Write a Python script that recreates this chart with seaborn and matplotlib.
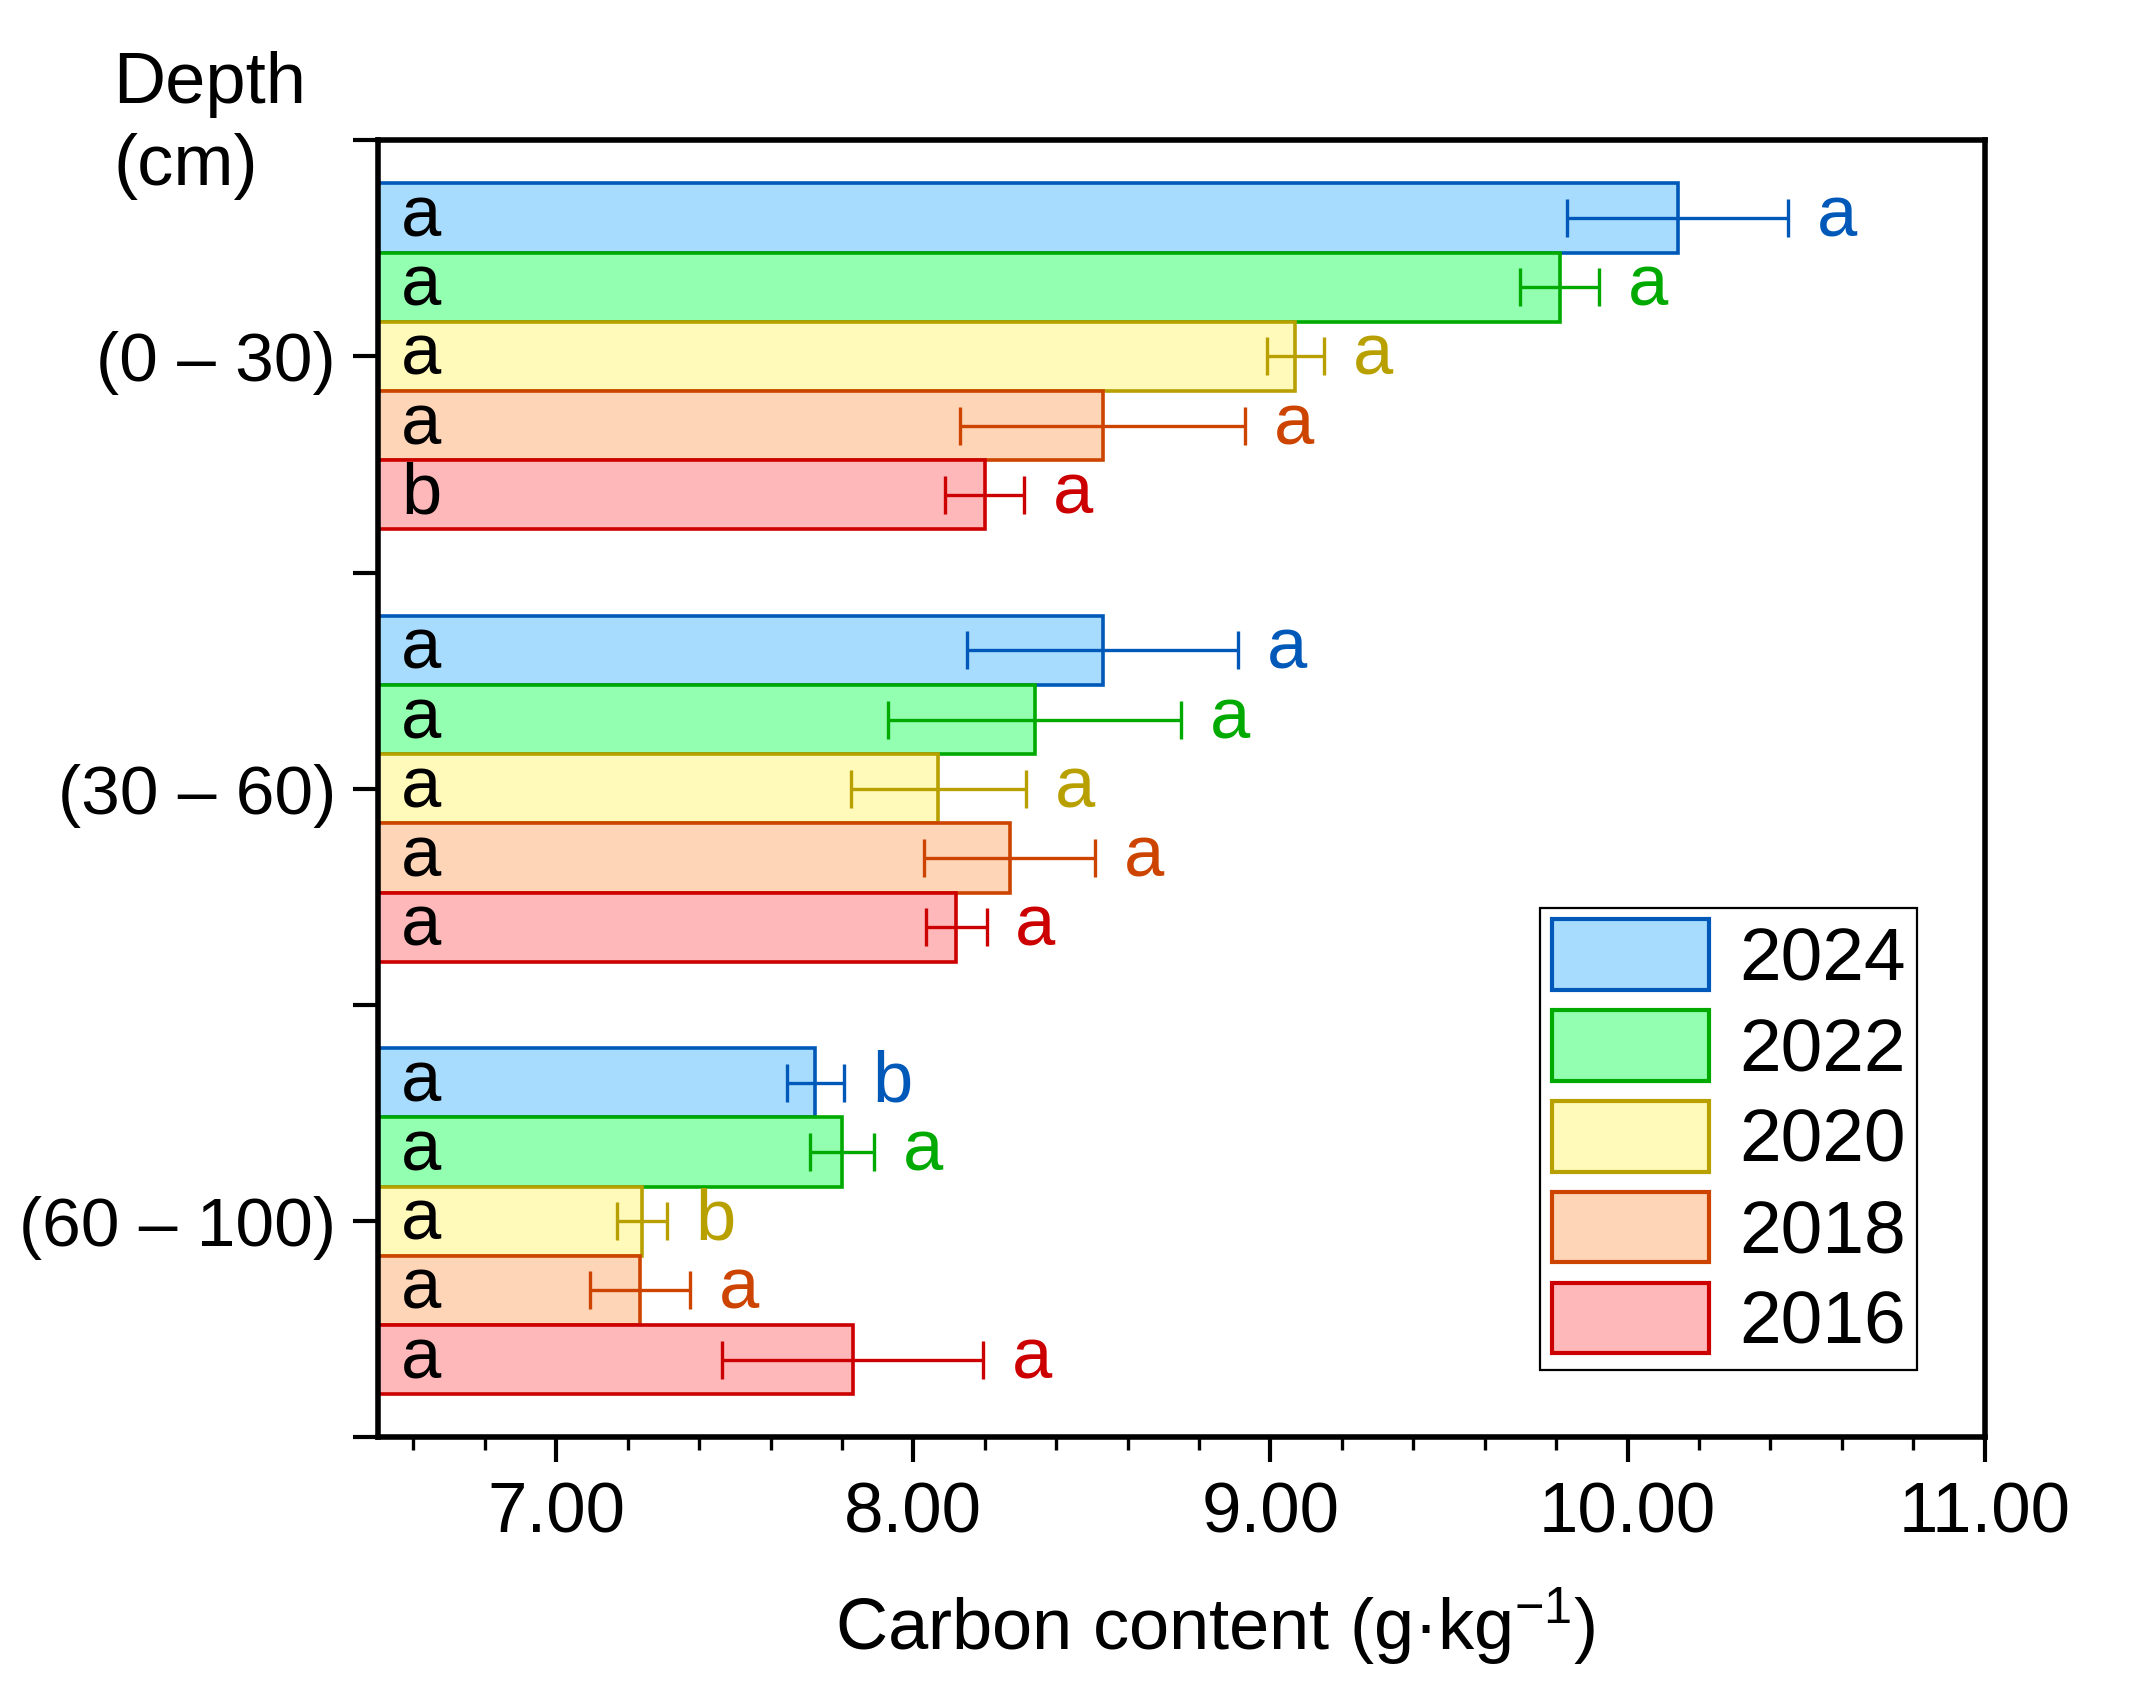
import matplotlib
matplotlib.use("Agg")
import numpy as np
import pandas as pd
import matplotlib.pyplot as plt
import matplotlib.patches as mpatches
from matplotlib.colors import to_rgb
from matplotlib.ticker import MultipleLocator, FormatStrFormatter
import seaborn as sns

# data
depths = ["(0 – 30)", "(30 – 60)", "(60 – 100)"]
years = ["2024", "2022", "2020", "2018", "2016"]

mean_2024 = [10.14, 8.53, 7.725]
mean_2022 = [9.81, 8.34, 7.80]
mean_2020 = [9.07, 8.07, 7.24]
mean_2018 = [8.53, 8.27, 7.235]
mean_2016 = [8.20, 8.12, 7.83]

err_2024 = [0.31, 0.38, 0.08]
err_2022 = [0.11, 0.41, 0.09]
err_2020 = [0.08, 0.245, 0.07]
err_2018 = [0.40, 0.24, 0.14]
err_2016 = [0.11, 0.085, 0.365]

# letters inside bars (between depths) and beside bars (between years)
inner_2024 = ["a", "a", "a"]
inner_2022 = ["a", "a", "a"]
inner_2020 = ["a", "a", "a"]
inner_2018 = ["a", "a", "a"]
inner_2016 = ["b", "a", "a"]

outer_2024 = ["a", "a", "b"]
outer_2022 = ["a", "a", "a"]
outer_2020 = ["a", "a", "b"]
outer_2018 = ["a", "a", "a"]
outer_2016 = ["a", "a", "a"]

fills = ["#A8DCFF", "#93FFB0", "#FFFAB9", "#FFD5B8", "#FFB8BA"]
edges = ["#0058B8", "#00AA00", "#B8A000", "#CC4400", "#CC0000"]

means = [mean_2024, mean_2022, mean_2020, mean_2018, mean_2016]
errs = [err_2024, err_2022, err_2020, err_2018, err_2016]
inners = [inner_2024, inner_2022, inner_2020, inner_2018, inner_2016]
outers = [outer_2024, outer_2022, outer_2020, outer_2018, outer_2016]

rows = []
for y, m in zip(years, means):
    for d, v in zip(depths, m):
        rows.append({"Depth": d, "Year": y, "Carbon": v})
df = pd.DataFrame(rows)

sns.set_theme(style="ticks")
plt.rcParams["font.family"] = ["Liberation Sans", "DejaVu Sans"]
plt.rcParams["mathtext.fontset"] = "custom"
plt.rcParams["mathtext.rm"] = "Liberation Sans"
plt.rcParams["mathtext.it"] = "Liberation Sans:italic"
plt.rcParams["mathtext.bf"] = "Liberation Sans:bold"
for k in ["text.color", "axes.labelcolor", "xtick.color", "ytick.color",
          "xtick.labelcolor", "ytick.labelcolor"]:
    plt.rcParams[k] = "black"

fig, ax = plt.subplots(figsize=(10.67, 8.445), dpi=200)
fig.subplots_adjust(left=0.177, right=0.930, top=0.917, bottom=0.149)

sns.barplot(data=df, x="Carbon", y="Depth", hue="Year", hue_order=years,
            order=depths, palette=fills, saturation=1, width=0.8,
            orient="h", ax=ax, legend=False)

fill_rgb = [np.array(to_rgb(c)) for c in fills]

for bar in list(ax.patches):
    fc = np.array(bar.get_facecolor()[:3])
    i = int(np.argmin([np.abs(fc - c).sum() for c in fill_rgb]))
    bar.set_edgecolor(edges[i])
    bar.set_linewidth(1.3)
    yc = bar.get_y() + bar.get_height() / 2
    j = int(round(yc))
    v = bar.get_width()
    e = errs[i][j]
    ax.errorbar(v, yc, xerr=e, fmt="none", ecolor=edges[i],
                elinewidth=1.2, capsize=7, capthick=1.2, zorder=3)
    ax.text(6.565, yc, inners[i][j], ha="left", va="center",
            fontsize=26, color="black")
    ax.text(v + e + 0.08, yc, outers[i][j], ha="left", va="center",
            fontsize=26, color=edges[i])

ax.set_xlim(6.5, 11)
ax.set_ylim(2.5, -0.5)
ax.xaxis.set_major_locator(MultipleLocator(1))
ax.xaxis.set_minor_locator(MultipleLocator(0.2))
ax.xaxis.set_major_formatter(FormatStrFormatter("%.2f"))
ax.set_yticks([0, 1, 2])
ax.set_yticklabels(depths)
ax.set_yticks([-0.5, 0.5, 1.5, 2.5], minor=True)

ax.tick_params(axis="both", which="major", direction="out", length=9,
               width=1.5, color="black")
ax.tick_params(axis="x", which="major", labelsize=25.5, pad=7)
ax.tick_params(axis="y", which="major", labelsize=25, pad=6)
ax.tick_params(axis="x", which="minor", direction="out", length=4.5,
               width=1.2)
ax.tick_params(axis="y", which="minor", direction="out", length=9,
               width=1.5)

for s in ax.spines.values():
    s.set_visible(True)
    s.set_linewidth(2)
    s.set_color("black")

ax.set_ylabel("")
ax.set_xlabel(r"Carbon content (g·kg$^{-1}$)", fontsize=26, labelpad=12)
ax.xaxis.set_label_coords(0.521, -0.114)
fig.text(0.053, 0.970, "Depth\n(cm)", ha="left", va="top", fontsize=26,
         linespacing=1.3)

handles = [mpatches.Patch(facecolor=f, edgecolor=e, linewidth=1.5, label=y)
           for f, e, y in zip(fills, edges, years)]
leg = ax.legend(handles=handles, loc="lower right", fontsize=27,
                frameon=True, fancybox=False, edgecolor="black",
                handlelength=2.1, handleheight=1.07, labelspacing=0.2,
                borderpad=0.15, handletextpad=0.4, borderaxespad=0.9)
leg.get_frame().set_linewidth(0.8)
leg.get_frame().set_alpha(1)

fig.savefig("out.png", dpi=200)
